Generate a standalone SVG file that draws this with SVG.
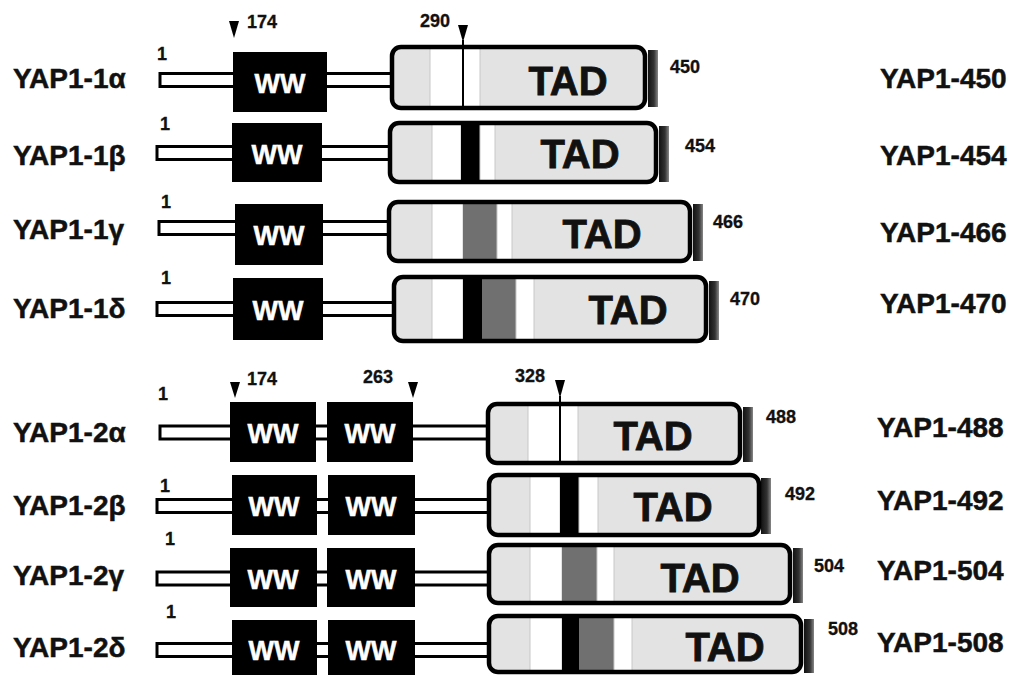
<svg xmlns="http://www.w3.org/2000/svg" width="1015" height="675" viewBox="0 0 1015 675">
<defs>
<linearGradient id="sh" x1="0" y1="0" x2="1" y2="0">
<stop offset="0" stop-color="#111"/>
<stop offset="0.6" stop-color="#333"/>
<stop offset="1" stop-color="#888"/>
</linearGradient>
<style>
.lbl{font-family:"Liberation Sans",Arial,sans-serif;font-weight:bold;font-size:28px;fill:#111;stroke:#111;stroke-width:0.5}
.num{font-family:"Liberation Sans",Arial,sans-serif;font-weight:bold;font-size:18px;fill:#111;stroke:#111;stroke-width:0.3}
.ww{font-family:"Liberation Sans",Arial,sans-serif;font-weight:bold;font-size:27px;fill:#fff;text-anchor:middle;stroke:#fff;stroke-width:0.5}
.tad{font-family:"Liberation Sans",Arial,sans-serif;font-weight:bold;font-size:40px;fill:#111;text-anchor:middle;stroke:#111;stroke-width:0.8}
.bar{fill:#fff;stroke:#000;stroke-width:3}
.wwb{fill:#000}
.tb{fill:#e3e3e3}
.to{fill:none;stroke:#000;stroke-width:4.5}
.wh{fill:#fff;stroke:#c8c8c8;stroke-width:1}
.bk{fill:#000}
.dg{fill:#707070}
.tri{fill:#000}
.sh{fill:url(#sh)}
.ln{stroke:#000;stroke-width:2}
</style>
</defs>
<rect width="1015" height="675" fill="#fff"/>

<g id="yap1-1a">
<text class="lbl" x="13" y="88">YAP1-1α</text>
<text class="num" x="157" y="60">1</text>
<rect class="bar" x="160" y="73.5" width="232" height="13"/>
<rect class="wwb" x="233" y="52" width="94" height="60"/>
<text class="ww" x="280" y="93">WW</text>
<rect class="sh" x="648" y="50" width="10" height="57"/>
<rect class="tb" x="392" y="47" width="253" height="61" rx="8"/>
<rect class="wh" x="430" y="48" width="50" height="59"/>
<line class="ln" x1="463" y1="40" x2="463" y2="108"/>
<rect class="to" x="392" y="47" width="253" height="61" rx="9"/>
<text class="tad" x="568" y="95">TAD</text>
<text class="num" x="670" y="73">450</text>
<text class="lbl" x="880" y="88">YAP1-450</text>
</g>

<g id="yap1-1b">
<text class="lbl" x="13" y="165">YAP1-1β</text>
<text class="num" x="160" y="130">1</text>
<rect class="bar" x="157" y="146.5" width="233" height="13"/>
<rect class="wwb" x="232" y="123" width="90" height="59"/>
<text class="ww" x="277" y="164">WW</text>
<rect class="sh" x="659" y="126" width="10" height="56"/>
<rect class="tb" x="390" y="123" width="266" height="59" rx="8"/>
<rect class="wh" x="432" y="124" width="29" height="57"/>
<rect class="bk" x="461" y="124" width="19" height="57"/>
<rect class="wh" x="480" y="124" width="15" height="57"/>
<rect class="to" x="390" y="123" width="266" height="59" rx="9"/>
<text class="tad" x="580" y="168">TAD</text>
<text class="num" x="685" y="152">454</text>
<text class="lbl" x="880" y="165">YAP1-454</text>
</g>

<g id="yap1-1g">
<text class="lbl" x="13" y="239">YAP1-1γ</text>
<text class="num" x="161" y="208">1</text>
<rect class="bar" x="159" y="221.5" width="230" height="13"/>
<rect class="wwb" x="235" y="204" width="88" height="61"/>
<text class="ww" x="279" y="245">WW</text>
<rect class="sh" x="693" y="204" width="10" height="57"/>
<rect class="tb" x="389" y="202" width="301" height="59" rx="8"/>
<rect class="wh" x="432" y="203" width="31" height="57"/>
<rect class="dg" x="463" y="203" width="34" height="57"/>
<rect class="wh" x="497" y="203" width="15" height="57"/>
<rect class="to" x="389" y="202" width="301" height="59" rx="9"/>
<text class="tad" x="602" y="248">TAD</text>
<text class="num" x="713" y="228">466</text>
<text class="lbl" x="880" y="242">YAP1-466</text>
</g>

<g id="yap1-1d">
<text class="lbl" x="13" y="318">YAP1-1δ</text>
<text class="num" x="161" y="284">1</text>
<rect class="bar" x="157" y="302.5" width="237" height="13"/>
<rect class="wwb" x="233" y="278" width="90" height="62"/>
<text class="ww" x="278" y="320">WW</text>
<rect class="sh" x="709" y="281" width="10" height="59"/>
<rect class="tb" x="394" y="277" width="312" height="64" rx="8"/>
<rect class="wh" x="432" y="278" width="31" height="62"/>
<rect class="bk" x="463" y="278" width="19" height="62"/>
<rect class="dg" x="482" y="278" width="34" height="62"/>
<rect class="wh" x="516" y="278" width="18" height="62"/>
<rect class="to" x="394" y="277" width="312" height="64" rx="9"/>
<text class="tad" x="628" y="324">TAD</text>
<text class="num" x="730" y="305">470</text>
<text class="lbl" x="880" y="313">YAP1-470</text>
</g>

<g id="yap1-2a">
<text class="lbl" x="13" y="442">YAP1-2α</text>
<text class="num" x="158" y="400">1</text>
<rect class="bar" x="160" y="426" width="328" height="13"/>
<rect class="wwb" x="230" y="402" width="86" height="60"/>
<text class="ww" x="273" y="443">WW</text>
<rect class="wwb" x="327" y="402" width="86" height="60"/>
<text class="ww" x="370" y="443">WW</text>
<rect class="sh" x="743" y="407" width="10" height="55"/>
<rect class="tb" x="488" y="404" width="252" height="59" rx="8"/>
<rect class="wh" x="528" y="405" width="50" height="57"/>
<line class="ln" x1="560" y1="396" x2="560" y2="463"/>
<rect class="to" x="488" y="404" width="252" height="59" rx="9"/>
<text class="tad" x="653" y="450">TAD</text>
<text class="num" x="766" y="423">488</text>
<text class="lbl" x="877" y="437">YAP1-488</text>
</g>

<g id="yap1-2b">
<text class="lbl" x="13" y="515">YAP1-2β</text>
<text class="num" x="160" y="492">1</text>
<rect class="bar" x="157" y="499.5" width="332" height="13"/>
<rect class="wwb" x="232" y="475" width="85" height="60"/>
<text class="ww" x="274" y="516">WW</text>
<rect class="wwb" x="328" y="475" width="87" height="60"/>
<text class="ww" x="371" y="516">WW</text>
<rect class="sh" x="761" y="478" width="10" height="56"/>
<rect class="tb" x="489" y="475" width="270" height="60" rx="8"/>
<rect class="wh" x="530" y="476" width="30" height="58"/>
<rect class="bk" x="560" y="476" width="19" height="58"/>
<rect class="wh" x="579" y="476" width="19" height="58"/>
<rect class="to" x="489" y="475" width="270" height="60" rx="9"/>
<text class="tad" x="673" y="521">TAD</text>
<text class="num" x="785" y="500">492</text>
<text class="lbl" x="877" y="510">YAP1-492</text>
</g>

<g id="yap1-2g">
<text class="lbl" x="13" y="585">YAP1-2γ</text>
<text class="num" x="165" y="545">1</text>
<rect class="bar" x="157" y="572" width="332" height="13"/>
<rect class="wwb" x="230" y="548" width="87" height="59"/>
<text class="ww" x="273" y="589">WW</text>
<rect class="wwb" x="327" y="548" width="88" height="59"/>
<text class="ww" x="371" y="589">WW</text>
<rect class="sh" x="793" y="548" width="10" height="55"/>
<rect class="tb" x="489" y="545" width="301" height="58" rx="8"/>
<rect class="wh" x="530" y="546" width="32" height="56"/>
<rect class="dg" x="562" y="546" width="35" height="56"/>
<rect class="wh" x="597" y="546" width="17" height="56"/>
<rect class="to" x="489" y="545" width="301" height="58" rx="9"/>
<text class="tad" x="700" y="592">TAD</text>
<text class="num" x="814" y="572">504</text>
<text class="lbl" x="877" y="580">YAP1-504</text>
</g>

<g id="yap1-2d">
<text class="lbl" x="13" y="657">YAP1-2δ</text>
<text class="num" x="166" y="618">1</text>
<rect class="bar" x="157" y="643.5" width="332" height="13"/>
<rect class="wwb" x="232" y="620" width="85" height="58"/>
<text class="ww" x="274" y="660">WW</text>
<rect class="wwb" x="328" y="620" width="87" height="58"/>
<text class="ww" x="371" y="660">WW</text>
<rect class="sh" x="804" y="619" width="10" height="54"/>
<rect class="tb" x="489" y="616" width="312" height="56" rx="8"/>
<rect class="wh" x="530" y="617" width="32" height="54"/>
<rect class="bk" x="562" y="617" width="17" height="54"/>
<rect class="dg" x="579" y="617" width="35" height="54"/>
<rect class="wh" x="614" y="617" width="18" height="54"/>
<rect class="to" x="489" y="616" width="312" height="56" rx="9"/>
<text class="tad" x="725" y="661">TAD</text>
<text class="num" x="828" y="635">508</text>
<text class="lbl" x="877" y="652">YAP1-508</text>
</g>

<g id="markers">
<polygon class="tri" points="229,21 239,21 234,38"/>
<text class="num" x="247" y="28">174</text>
<text class="num" x="420" y="27">290</text>
<polygon class="tri" points="458,25 468,25 463,42"/>
<polygon class="tri" points="230,382 240,382 235,398"/>
<text class="num" x="247" y="385">174</text>
<text class="num" x="363" y="383">263</text>
<polygon class="tri" points="408,382 418,382 413,398"/>
<text class="num" x="515" y="382">328</text>
<polygon class="tri" points="555,380 565,380 560,398"/>
</g>
</svg>
